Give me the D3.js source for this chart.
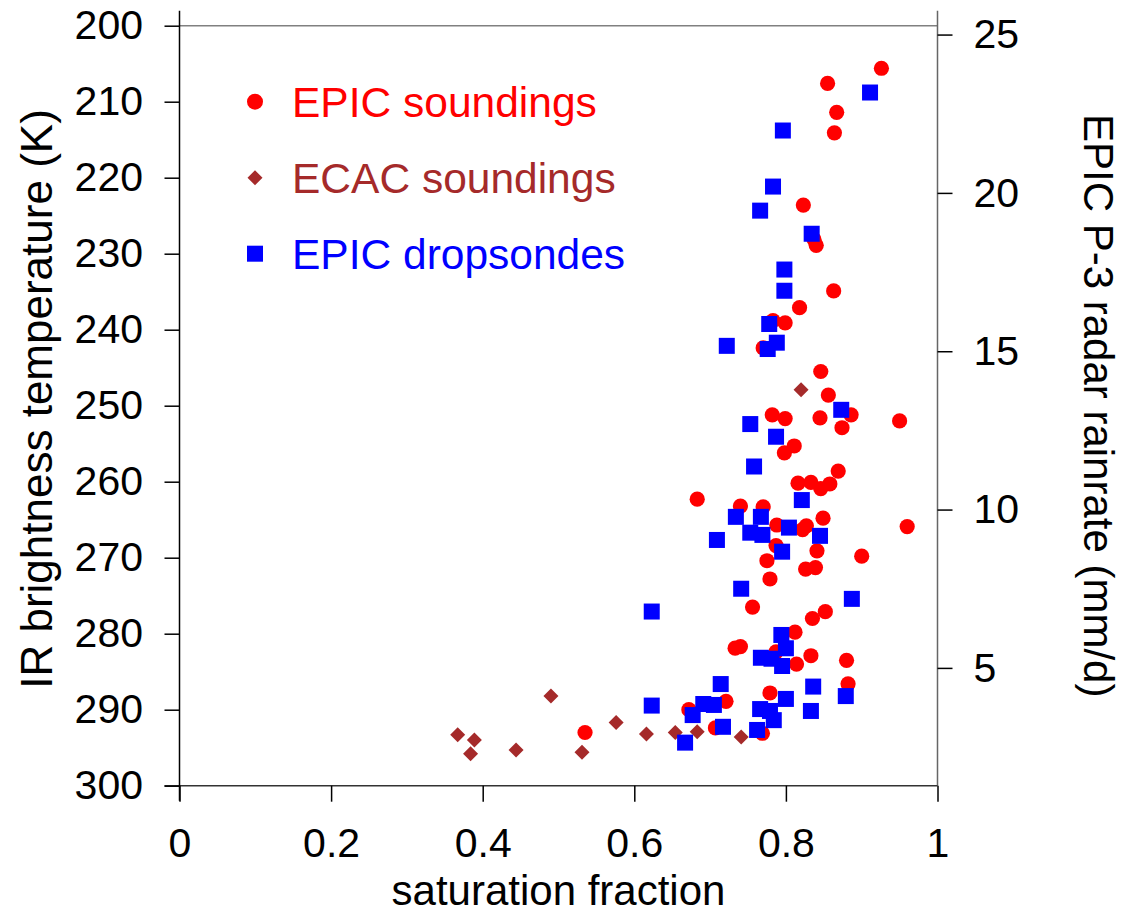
<!DOCTYPE html>
<html>
<head>
<meta charset="utf-8">
<script src="https://cdn.jsdelivr.net/npm/d3@7"></script>
<style>
  body { margin: 0; background: #fff; }
  text { font-family: "Liberation Sans", Arial, sans-serif; }
</style>
</head>
<body>
<div id="chart"></div>
<script>
// [saturation fraction, IR brightness temperature (K)]
const epicSoundings = [
  [0.926, 205.6], [0.855, 207.6], [0.867, 211.4], [0.864, 214.1], [0.823, 223.6],
  [0.837, 228.1], [0.840, 228.9], [0.863, 234.9], [0.818, 237.1], [0.783, 238.8],
  [0.799, 239.1], [0.770, 242.4], [0.846, 245.5], [0.856, 248.6], [0.886, 251.2],
  [0.782, 251.2], [0.799, 251.7], [0.845, 251.6], [0.950, 252.0], [0.874, 252.9],
  [0.811, 255.3], [0.798, 256.2], [0.869, 258.6], [0.816, 260.2], [0.833, 260.1],
  [0.846, 260.9], [0.858, 260.3], [0.683, 262.3], [0.740, 263.2], [0.770, 263.3],
  [0.849, 264.8], [0.960, 265.9], [0.788, 265.7], [0.827, 265.8], [0.822, 266.3],
  [0.787, 268.4], [0.841, 269.1], [0.900, 269.8], [0.775, 270.4], [0.826, 271.5],
  [0.839, 271.3], [0.779, 272.8], [0.756, 276.5], [0.852, 277.1], [0.835, 278.0],
  [0.812, 279.8], [0.733, 281.9], [0.740, 281.7], [0.787, 282.4], [0.814, 284.0],
  [0.833, 282.9], [0.880, 283.5], [0.882, 286.6], [0.779, 287.8], [0.721, 288.9],
  [0.672, 290.0], [0.707, 292.4], [0.769, 293.1], [0.535, 293.0]
];

// [saturation fraction, IR brightness temperature (K)]
const ecacSoundings = [
  [0.367, 293.3], [0.389, 294.0], [0.384, 295.8], [0.444, 295.3], [0.490, 288.2],
  [0.531, 295.6], [0.576, 291.7], [0.616, 293.2], [0.654, 293.0], [0.683, 292.9],
  [0.741, 293.6], [0.820, 247.9]
];

// [saturation fraction, EPIC P-3 radar rainrate (mm/d)]
const epicDropsondes = [
  [0.911, 23.17], [0.796, 21.97], [0.783, 20.20], [0.766, 19.44], [0.834, 18.71],
  [0.798, 17.58], [0.798, 16.91], [0.778, 15.86], [0.722, 15.17], [0.788, 15.27],
  [0.776, 15.07], [0.873, 13.15], [0.753, 12.70], [0.787, 12.30], [0.758, 11.36],
  [0.821, 10.30], [0.734, 9.77], [0.767, 9.77], [0.804, 9.43], [0.845, 9.17],
  [0.753, 9.27], [0.769, 9.20], [0.709, 9.04], [0.795, 8.67], [0.741, 7.50],
  [0.887, 7.18], [0.623, 6.78], [0.794, 6.04], [0.800, 5.62], [0.767, 5.32],
  [0.781, 5.29], [0.795, 5.06], [0.714, 4.49], [0.800, 4.02], [0.836, 4.41],
  [0.879, 4.11], [0.833, 3.64], [0.623, 3.81], [0.691, 3.86], [0.705, 3.83],
  [0.677, 3.51], [0.766, 3.70], [0.779, 3.64], [0.784, 3.35], [0.717, 3.14],
  [0.762, 3.04], [0.667, 2.64]
];

const xTicks = [0, 0.2, 0.4, 0.6, 0.8, 1];
const tempTicks = [200, 210, 220, 230, 240, 250, 260, 270, 280, 290, 300];
const rainTicks = [5, 10, 15, 20, 25];
const legendLabels = ["EPIC soundings", "ECAC soundings", "EPIC dropsondes"];
const legendTemps = [210, 220, 230];

const W = 1123, H = 914;
const mLeft = 179.5, mTop = 25.7;
const w = 758, h = 760;

const red = "#ff0000", brown = "#a52a2a", blue = "#0000ff";

const svg = d3.select("#chart")
    .append("svg")
    .attr("width", W)
    .attr("height", H);

const g = svg.append("g")
    .attr("transform", `translate(${mLeft}, ${mTop})`);

const x = d3.scaleLinear().domain([0, 1]).range([0, w]);
const yT = d3.scaleLinear().domain([200, 300]).range([0, h]);
const yR = d3.scaleLinear().domain([1.28, 25.28]).range([h, 0]);

// frame lines
g.append("line").attr("x1", 0).attr("x2", w).attr("y1", 0).attr("y2", 0)
    .attr("stroke", "#808080").attr("stroke-width", 1.5);
g.append("line").attr("x1", w).attr("x2", w).attr("y1", -15).attr("y2", h)
    .attr("stroke", "#666").attr("stroke-width", 1.5);
g.append("line").attr("x1", -15).attr("x2", w).attr("y1", h).attr("y2", h)
    .attr("stroke", "#333").attr("stroke-width", 1.5);
g.append("line").attr("x1", 0).attr("x2", 0).attr("y1", -15).attr("y2", h + 15)
    .attr("stroke", "#000").attr("stroke-width", 1.5);

// axes
const gx = g.append("g")
    .attr("transform", `translate(0, ${h})`)
    .call(d3.axisBottom(x).tickValues(xTicks).tickFormat(d3.format("~g"))
        .tickSize(16).tickSizeOuter(0).tickPadding(26));

const gy = g.append("g")
    .call(d3.axisLeft(yT).tickValues(tempTicks).tickFormat(d3.format("d"))
        .tickSize(15).tickSizeOuter(0).tickPadding(21.5));

const gr = g.append("g")
    .attr("transform", `translate(${w}, 0)`)
    .call(d3.axisRight(yR).tickValues(rainTicks).tickFormat(d3.format("d"))
        .tickSize(15).tickSizeOuter(0).tickPadding(21));

[gx, gy, gr].forEach(a => {
    a.select(".domain").remove();
    a.attr("font-size", 41).attr("font-family", null);
    a.selectAll(".tick line").attr("stroke", "#000").attr("stroke-width", 1.5);
    a.selectAll(".tick text").attr("fill", "#000");
});

// axis titles
g.append("text")
    .attr("x", w / 2)
    .attr("y", 879)
    .attr("text-anchor", "middle")
    .attr("font-size", 42)
    .text("saturation fraction");

g.append("text")
    .attr("transform", `translate(${52 - mLeft}, ${399 - mTop}) rotate(-90)`)
    .attr("text-anchor", "middle")
    .attr("font-size", 44)
    .text("IR brightness temperature (K)");

g.append("text")
    .attr("transform", `translate(${1083.5 - mLeft}, ${h / 2}) rotate(90)`)
    .attr("text-anchor", "middle")
    .attr("font-size", 42)
    .text("EPIC P-3 radar rainrate (mm/d)");

// markers
const diamond = s => `M0,${-s}L${s},0L0,${s}L${-s},0Z`;

g.append("g").selectAll("circle")
    .data(epicSoundings)
    .enter()
    .append("circle")
    .attr("cx", d => x(d[0]))
    .attr("cy", d => yT(d[1]))
    .attr("r", 7.6)
    .attr("fill", red);

g.append("g").selectAll("path")
    .data(ecacSoundings)
    .enter()
    .append("path")
    .attr("transform", d => `translate(${x(d[0])}, ${yT(d[1])})`)
    .attr("d", diamond(7.5))
    .attr("fill", brown);

g.append("g").selectAll("rect")
    .data(epicDropsondes)
    .enter()
    .append("rect")
    .attr("x", d => x(d[0]) - 8)
    .attr("y", d => yR(d[1]) - 8)
    .attr("width", 16)
    .attr("height", 16)
    .attr("fill", blue);

// legend
const legendX = 255 - mLeft;
const legendColors = [red, brown, blue];
const leg = g.append("g");

leg.append("circle")
    .attr("cx", legendX).attr("cy", yT(legendTemps[0]))
    .attr("r", 8).attr("fill", red);
leg.append("path")
    .attr("transform", `translate(${legendX}, ${yT(legendTemps[1])})`)
    .attr("d", diamond(7.5)).attr("fill", brown);
leg.append("rect")
    .attr("x", legendX - 8).attr("y", yT(legendTemps[2]) - 8)
    .attr("width", 16).attr("height", 16).attr("fill", blue);

leg.selectAll("text")
    .data(legendLabels)
    .enter()
    .append("text")
    .attr("x", 292 - mLeft)
    .attr("y", (d, i) => yT(legendTemps[i]))
    .attr("dy", "0.35em")
    .attr("font-size", 42.5)
    .attr("fill", (d, i) => legendColors[i])
    .text(d => d);
</script>
</body>
</html>
